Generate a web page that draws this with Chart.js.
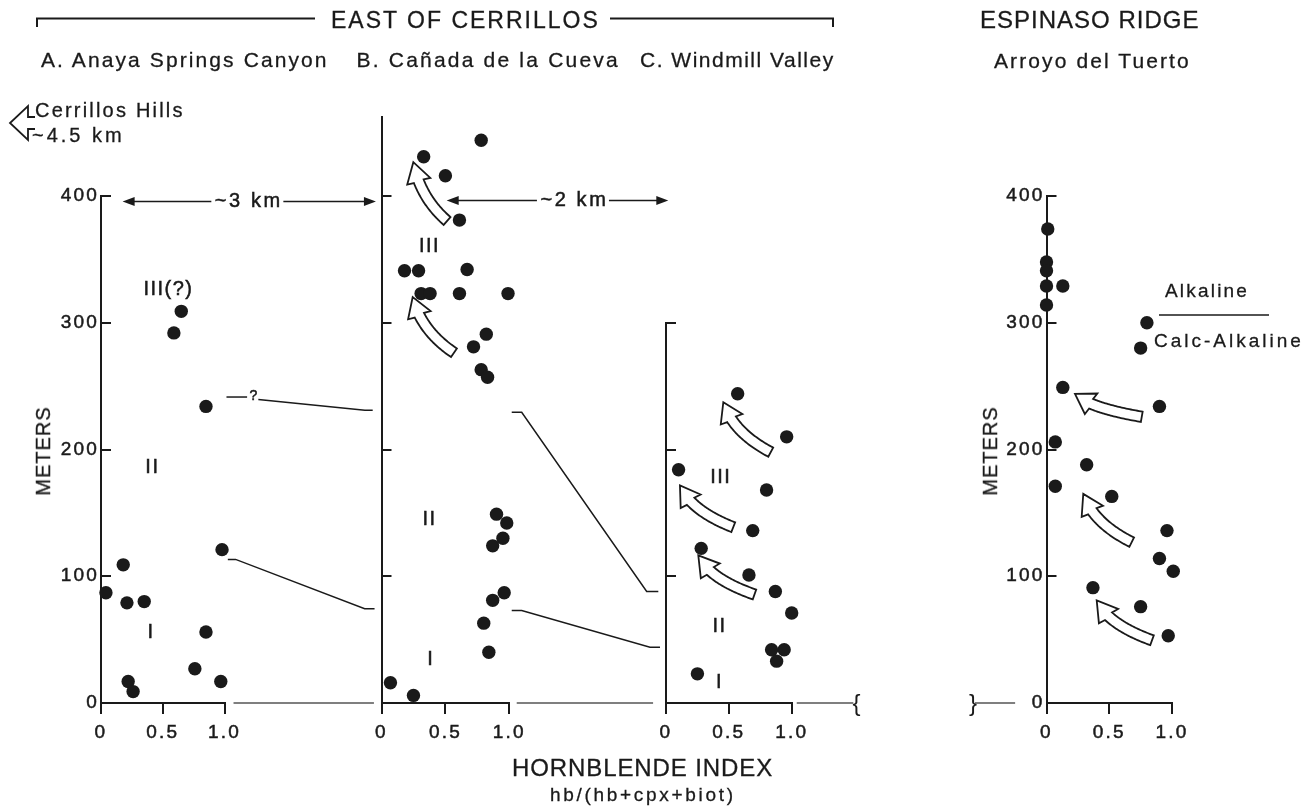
<!DOCTYPE html>
<html>
<head>
<meta charset="utf-8">
<script src="https://cdn.jsdelivr.net/npm/chart.js@4.4.1/dist/chart.umd.min.js"></script>
<style>
  html, body { margin: 0; padding: 0; background: #fff; }
  #fig { position: relative; width: 1312px; height: 807px; overflow: hidden;
         font-family: 'Liberation Sans', Arial, Helvetica, sans-serif; color: #1a1a1a; }
  #fig canvas { position: absolute; left: 0; top: 0; }
  .t { position: absolute; white-space: nowrap; line-height: 1; -webkit-text-stroke: 0.3px #1a1a1a; }
  .rot { transform: translate(-50%, -50%) rotate(-90deg); }
  svg { position: absolute; left: 0; top: 0; }
</style>
</head>
<body>
<div id="fig">
  <svg width="1312" height="807">
    <g fill="none" stroke="#1a1a1a" stroke-width="2">
      <polyline points="37,27 37,18.5 315,18.5"/>
      <polyline points="610,18.5 833,18.5 833,27"/>
      <polyline points="35,117 28,117 28,106 10,123 28,140 28,129 35,129" stroke-width="1.8"/>
    </g>
    <line x1="1159" y1="315" x2="1269" y2="315" stroke="#1a1a1a" stroke-width="1.6"/>
  </svg>

  <canvas id="secA" width="1312" height="807"></canvas>
  <canvas id="secB" width="1312" height="807"></canvas>
  <canvas id="secC" width="1312" height="807"></canvas>
  <canvas id="secD" width="1312" height="807"></canvas>

  <div class="t" style="left:331px;top:8.5px;font-size:23px;letter-spacing:2px;">EAST OF CERRILLOS</div>
  <div class="t" style="left:980px;top:7.7px;font-size:24px;letter-spacing:1px;">ESPINASO RIDGE</div>
  <div class="t" style="left:41px;top:48.9px;font-size:21px;letter-spacing:2.1px;">A. Anaya Springs Canyon</div>
  <div class="t" style="left:356.5px;top:48.9px;font-size:21px;letter-spacing:2.2px;">B. Cañada de la Cueva</div>
  <div class="t" style="left:640px;top:48.9px;font-size:21px;letter-spacing:1.5px;">C. Windmill Valley</div>
  <div class="t" style="left:994px;top:50.3px;font-size:21px;letter-spacing:2.1px;">Arroyo del Tuerto</div>
  <div class="t" style="left:35px;top:99.8px;font-size:20px;letter-spacing:2.2px;">Cerrillos Hills</div>
  <div class="t" style="left:32px;top:124.8px;font-size:20px;letter-spacing:3px;">~4.5 km</div>
  <div class="t rot" style="left:42.5px;top:451px;font-size:20px;letter-spacing:1px;">METERS</div>
  <div class="t rot" style="left:990px;top:451px;font-size:20px;letter-spacing:1px;">METERS</div>
  <div class="t" style="left:512px;top:756.2px;font-size:24px;letter-spacing:0.9px;">HORNBLENDE INDEX</div>
  <div class="t" style="left:550px;top:785.4px;font-size:19px;letter-spacing:2.7px;">hb/(hb+cpx+biot)</div>
  <div class="t" style="left:1165px;top:280.6px;font-size:19px;letter-spacing:2.2px;">Alkaline</div>
  <div class="t" style="left:1154px;top:330.6px;font-size:19px;letter-spacing:3px;">Calc-Alkaline</div>
</div>

<script>
// ---- Hornblende index (x) and stratigraphic height in meters (y) ----
// A. Anaya Springs Canyon
const anayaHb = [0.65, 0.59, 0.85, 0.98, 0.18, 0.04, 0.21, 0.35, 0.85, 0.76, 0.97, 0.22, 0.26];
const anayaM  = [309, 292, 234, 121, 109, 87, 79, 80, 56, 27, 17, 17, 9];
// B. Cañada de la Cueva
const canadaHb = [0.78, 0.33, 0.50, 0.61, 0.18, 0.29, 0.67, 0.31, 0.38, 0.61, 0.99, 0.82, 0.72, 0.78, 0.83,
                  0.90, 0.98, 0.95, 0.87, 0.96, 0.87, 0.80, 0.84, 0.07, 0.25];
const canadaM  = [444, 431, 416, 381, 341, 341, 342, 323, 323, 323, 323, 291, 281, 263, 257,
                  149, 142, 130, 124, 87, 81, 63, 40, 16, 6];
// C. Windmill Valley
const windmillHb = [0.57, 0.96, 0.10, 0.80, 0.69, 0.28, 0.66, 0.87, 1.00, 0.84, 0.94, 0.88, 0.25];
const windmillM  = [244, 210, 184, 168, 136, 122, 101, 88, 71, 42, 42, 33, 23];
// Espinaso Ridge, Arroyo del Tuerto
const tuertoHb = [0.01, 0, 0, 0, 0.13, 0, 0.80, 0.75, 0.13, 0.90, 0.07, 0.32, 0.07, 0.52, 0.96, 0.90, 1.01, 0.37, 0.75, 0.97];
const tuertoM  = [374, 348, 341, 329, 329, 314, 300, 280, 249, 234, 206, 188, 171, 163, 136, 114, 104, 91, 76, 53];

// ---- Axis ticks ----
const indexTicks = [0, 0.5, 1];
const indexTickLabels = ['0', '0.5', '1.0'];
const meterTicks = [0, 100, 200, 300, 400];
const windmillMeterTicks = [0, 100, 200, 300];

// ---- Section annotations (index units, meters) ----
const anayaZones = [['III(?)', 0.54, 326], ['II', 0.41, 186], ['I', 0.40, 56]];
const canadaZones = [['III', 0.37, 360], ['II', 0.37, 145], ['I', 0.38, 34]];
const windmillZones = [['III', 0.43, 178], ['II', 0.42, 60], ['I', 0.42, 16]];

// correlation lines carried to the next section
const anayaUpperTieA = [[1.016, 241.4], [1.183, 241.4]];
const anayaUpperTieB = [[1.274, 239.5], [2.137, 230.9], [2.20, 230.9]];
const anayaLowerTie = [[1.027, 113.3], [1.09, 113.3], [2.135, 74.3], [2.215, 74.3]];
const canadaUpperTie = [[1.019, 229.4], [1.097, 229.4], [2.075, 88], [2.166, 88]];
const canadaLowerTie = [[1.019, 73], [1.097, 73], [2.101, 44], [2.179, 44]];

// trend arrows: [tail, tip]
const canadaTrends = [[[0.513, 380.3], [0.249, 426.7]], [[0.567, 276.3], [0.244, 320.2]]];
const windmillTrends = [[[0.833, 197.9], [0.456, 237.3]], [[0.535, 138.7], [0.111, 171.6]], [[0.704, 85.6], [0.257, 116.4]]];
const tuertoTrends = [[[0.759, 225.8], [0.227, 243.9]], [[0.679, 126.9], [0.293, 165.0]], [[0.841, 49.5], [0.40, 80.9]]];

const FONT = "'Liberation Sans', Arial, Helvetica, sans-serif";
const INK = '#1a1a1a';
Chart.defaults.font.family = FONT;
Chart.defaults.color = INK;

function hollowArrow(ctx, tail, tip) {
  const [x0, y0] = tail, [x2, y2] = tip;
  const dx = x2 - x0, dy = y2 - y0;
  const cx = x2 - 0.2 * dx, cy = y2 - 0.6 * dy;
  const N = 60, pts = [];
  for (let i = 0; i <= N; i++) {
    const t = i / N, u = 1 - t;
    pts.push([u * u * x0 + 2 * u * t * cx + t * t * x2, u * u * y0 + 2 * u * t * cy + t * t * y2]);
  }
  const cum = [0];
  for (let i = 1; i <= N; i++) cum.push(cum[i - 1] + Math.hypot(pts[i][0] - pts[i - 1][0], pts[i][1] - pts[i - 1][1]));
  const L = cum[N], headLen = 19, half = 5.2, barb = 12;
  let k = N;
  while (k > 1 && L - cum[k] < headLen) k--;
  const shaft = pts.slice(0, k + 1);
  const left = [], right = [];
  shaft.forEach((p, i) => {
    const a = pts[Math.max(i - 1, 0)], b = pts[Math.min(i + 1, N)];
    let tx = b[0] - a[0], ty = b[1] - a[1];
    const l = Math.hypot(tx, ty); tx /= l; ty /= l;
    left.push([p[0] - ty * half, p[1] + tx * half]);
    right.push([p[0] + ty * half, p[1] - tx * half]);
  });
  const base = shaft[shaft.length - 1];
  let hx = x2 - base[0], hy = y2 - base[1];
  const hl = Math.hypot(hx, hy); hx /= hl; hy /= hl;
  ctx.beginPath();
  ctx.moveTo(left[0][0], left[0][1]);
  left.forEach(p => ctx.lineTo(p[0], p[1]));
  ctx.lineTo(base[0] - hy * barb, base[1] + hx * barb);
  ctx.lineTo(x2, y2);
  ctx.lineTo(base[0] + hy * barb, base[1] - hx * barb);
  for (let i = right.length - 1; i >= 0; i--) ctx.lineTo(right[i][0], right[i][1]);
  ctx.closePath();
  ctx.fillStyle = '#fff';
  ctx.fill();
  ctx.lineWidth = 1.8;
  ctx.lineJoin = 'miter';
  ctx.strokeStyle = INK;
  ctx.stroke();
}

function headAt(ctx, x, y, dir) {
  ctx.beginPath();
  ctx.moveTo(x, y);
  ctx.lineTo(x - dir * 12, y - 4.5);
  ctx.lineTo(x - dir * 12, y + 4.5);
  ctx.closePath();
  ctx.fill();
}

function label(ctx, text, x, y, size, spacing) {
  ctx.font = size + 'px ' + FONT;
  ctx.letterSpacing = spacing + 'px';
  ctx.lineWidth = 0.5;
  ctx.strokeStyle = INK;
  ctx.fillText(text, x, y);
  ctx.strokeText(text, x, y);
}

// per-section drawing notes, keyed by canvas id
const sectionNotes = {
  secA: {
    zones: anayaZones,
    ties: [anayaUpperTieA, anayaUpperTieB, anayaLowerTie],
    tieMarks: [['?', 1.234, 242]],
    zero: [[1.073, 2.21]],
    span: { from: 0.175, to: 2.226, m: 396, label: '~3 km', at: 1.185 }
  },
  secB: {
    zones: canadaZones,
    ties: [canadaUpperTie, canadaLowerTie],
    trends: canadaTrends,
    zero: [[1.058, 2.125]],
    span: { from: 0.51, to: 2.244, m: 397, label: '~2 km', at: 1.498 }
  },
  secC: {
    zones: windmillZones,
    trends: windmillTrends,
    zero: [[1.04, 1.49]],
    breaks: [['{', 1.515]]
  },
  secD: {
    trends: tuertoTrends,
    zero: [[-0.57, -0.25]],
    breaks: [['}', -0.585]]
  }
};

const notesPlugin = {
  id: 'sectionNotes',
  beforeDraw(chart) {
    chart.ctx.letterSpacing = '2.2px';
  },
  afterDraw(chart) {
    const n = sectionNotes[chart.canvas.id];
    if (!n) return;
    const { ctx } = chart;
    const xs = chart.scales.x, ys = chart.scales.y;
    const px = v => xs.getPixelForValue(v), py = v => ys.getPixelForValue(v);
    ctx.save();
    ctx.letterSpacing = '0px';
    ctx.strokeStyle = INK;
    ctx.fillStyle = INK;

    // zero-level line continued between sections
    (n.zero || []).forEach(([a, b]) => {
      ctx.beginPath();
      ctx.lineWidth = 1.3;
      ctx.strokeStyle = '#555';
      ctx.moveTo(px(a), py(0));
      ctx.lineTo(px(b), py(0));
      ctx.stroke();
    });
    ctx.strokeStyle = INK;
    (n.breaks || []).forEach(([ch, v]) => {
      ctx.font = '24px ' + FONT;
      ctx.textAlign = 'center';
      ctx.textBaseline = 'middle';
      ctx.fillText(ch, px(v), py(0) + 1);
    });

    // correlation lines
    (n.ties || []).forEach(line => {
      ctx.beginPath();
      ctx.lineWidth = 1.5;
      line.forEach(([v, m], i) => i ? ctx.lineTo(px(v), py(m)) : ctx.moveTo(px(v), py(m)));
      ctx.stroke();
    });
    (n.tieMarks || []).forEach(([t, v, m]) => {
      ctx.textAlign = 'center';
      ctx.textBaseline = 'middle';
      label(ctx, t, px(v), py(m), 14, 0);
    });

    // distance arrow between sections
    if (n.span) {
      const s = n.span, y = Math.round(py(s.m)) + 0.5;
      ctx.font = '20px ' + FONT;
      ctx.letterSpacing = '2.6px';
      const w = ctx.measureText(s.label).width;
      const xc = px(s.at), xa = px(s.from), xb = px(s.to);
      ctx.lineWidth = 1.6;
      ctx.beginPath();
      ctx.moveTo(xa + 8, y); ctx.lineTo(xc - w / 2 - 2, y);
      ctx.moveTo(xc + w / 2 + 2, y); ctx.lineTo(xb - 8, y);
      ctx.stroke();
      headAt(ctx, xa, y, -1);
      headAt(ctx, xb, y, 1);
      ctx.textAlign = 'left';
      ctx.textBaseline = 'middle';
      label(ctx, s.label, xc - w / 2 + 1.5, y, 20, 2.6);
    }

    // trend arrows
    (n.trends || []).forEach(([tail, tip]) => {
      hollowArrow(ctx, [px(tail[0]), py(tail[1])], [px(tip[0]), py(tip[1])]);
    });

    // magmatic unit labels
    (n.zones || []).forEach(([t, v, m]) => {
      ctx.fillStyle = INK;
      ctx.textAlign = 'center';
      ctx.textBaseline = 'middle';
      label(ctx, t, px(v) + 0.75, py(m), 20, 1.5);
    });
    ctx.restore();
  }
};

const W = 1312, H = 807, Y_BOX = 50, X_BOX = 50, BASE = 703, PX_PER_M = 1.2675;

function section(id, hb, m, box) {
  const top = BASE - box.ymax * PX_PER_M;
  return new Chart(document.getElementById(id), {
    type: 'scatter',
    data: {
      datasets: [{
        data: hb.map((v, i) => ({ x: v, y: m[i] })),
        backgroundColor: INK,
        borderColor: INK,
        borderWidth: 0,
        pointRadius: 6.7,
        pointHoverRadius: 6.7,
        clip: false
      }]
    },
    options: {
      responsive: false,
      animation: false,
      events: [],
      layout: { padding: { left: box.left - Y_BOX, right: W - box.right, top: top, bottom: H - BASE - X_BOX } },
      plugins: { legend: { display: false }, tooltip: { enabled: false } },
      scales: {
        x: {
          type: 'linear', min: 0, max: 1,
          afterFit: s => { s.height = X_BOX; },
          afterBuildTicks: s => { s.ticks = indexTicks.map(v => ({ value: v })); },
          ticks: {
            autoSkip: false, maxRotation: 0, padding: 7, color: INK,
            font: { size: 19 }, textStrokeColor: INK, textStrokeWidth: 0.5,
            callback: v => indexTickLabels[indexTicks.indexOf(v)]
          },
          grid: { display: true, drawOnChartArea: false, drawTicks: true, tickLength: 11, color: INK, lineWidth: 2 },
          border: { display: true, color: INK, width: 2 }
        },
        y: {
          type: 'linear', min: 0, max: box.ymax,
          afterFit: s => { s.width = Y_BOX; },
          afterBuildTicks: s => { s.ticks = box.ticks.map(v => ({ value: v })); },
          ticks: { display: box.labels, padding: 12, color: INK, font: { size: 19 }, textStrokeColor: INK, textStrokeWidth: 0.5 },
          grid: { display: true, drawOnChartArea: false, drawTicks: true, tickLength: -10, color: INK, lineWidth: 2 },
          border: { display: true, color: INK, width: 2 }
        }
      }
    },
    plugins: [notesPlugin]
  });
}

section('secA', anayaHb, anayaM, { left: 101, right: 224.5, ymax: 400, ticks: meterTicks, labels: true });
section('secB', canadaHb, canadaM, { left: 381.5, right: 509.3, ymax: 462, ticks: meterTicks, labels: false });
section('secC', windmillHb, windmillM, { left: 666, right: 791.7, ymax: 300, ticks: windmillMeterTicks, labels: false });
section('secD', tuertoHb, tuertoM, { left: 1046.5, right: 1172, ymax: 400, ticks: meterTicks, labels: true });
</script>
</body>
</html>
